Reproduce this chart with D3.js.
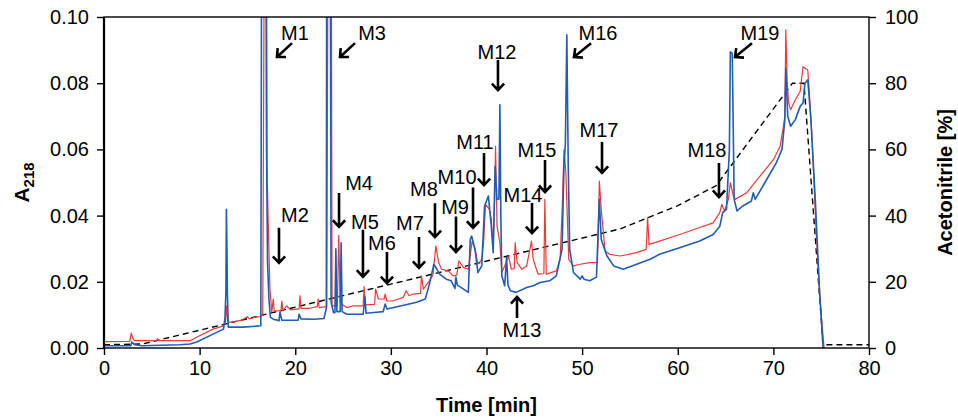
<!DOCTYPE html>
<html>
<head>
<meta charset="utf-8">
<script src="https://cdn.jsdelivr.net/npm/d3@7"></script>
<style>
  body { margin: 0; background: #fff; }
  text { font-family: "Liberation Sans", Arial, Helvetica, sans-serif; }
</style>
</head>
<body>
<div id="chart"></div>
<script>
// time [min] / A218 pairs
const redTrace = [
  [0, 0.0019], [2.7, 0.0020], [2.85, 0.0045], [3.0, 0.0030], [3.2, 0.0022], [5.5, 0.0022], [5.6, 0.0028], [5.7, 0.0022],
  [9.0, 0.0022], [10.0, 0.0037], [11.4, 0.0057], [12.5, 0.0067], [12.7, 0.0075], [12.8, 0.0127], [12.95, 0.0078],
  [13.5, 0.0078], [14.5, 0.0085], [15.0, 0.0095], [15.2, 0.0088], [15.8, 0.0093], [16.3, 0.0095], [16.6, 0.010],
  [16.8, 0.15], [17.0, 0.15], [17.05, 0.054], [17.2, 0.035], [17.35, 0.0178], [17.55, 0.011], [17.7, 0.0148],
  [17.8, 0.0112], [18.5, 0.0112], [18.6, 0.0142], [18.7, 0.0112], [19.1, 0.0127], [19.5, 0.0115], [20.4, 0.0118],
  [20.5, 0.0158], [20.6, 0.012], [21.5, 0.012], [22.3, 0.0125], [22.4, 0.0148], [22.5, 0.0122], [23.3, 0.0125],
  [23.45, 0.15], [23.75, 0.15], [23.85, 0.0127], [24.4, 0.0127], [24.55, 0.034], [24.7, 0.0135], [25.4, 0.0122],
  [26.0, 0.0127], [27.1, 0.0127], [27.2, 0.0186], [27.3, 0.013], [28.3, 0.0132], [28.4, 0.0178], [28.7, 0.0148],
  [29.3, 0.0148], [29.4, 0.0163], [29.6, 0.0142], [30.2, 0.0142], [31.3, 0.0153], [31.6, 0.0173], [31.9, 0.0158],
  [32.3, 0.0163], [33.1, 0.0165], [33.2, 0.0218], [33.4, 0.0178], [33.9, 0.0198], [34.4, 0.022], [34.7, 0.0308],
  [35.0, 0.0258], [35.3, 0.0238], [36.0, 0.0233], [36.5, 0.0218], [36.9, 0.022], [37.1, 0.0263], [37.6, 0.0243],
  [38.1, 0.0238], [38.3, 0.028], [38.5, 0.0323], [38.8, 0.030], [39.1, 0.0253], [39.5, 0.0268], [39.7, 0.032],
  [39.9, 0.0434], [40.3, 0.0419], [40.5, 0.0389], [40.7, 0.0298], [40.85, 0.045], [40.95, 0.0609], [41.1, 0.0368],
  [41.4, 0.0318], [41.6, 0.0228], [41.9, 0.0248], [42.3, 0.0278], [42.6, 0.0238], [42.9, 0.024], [43.0, 0.0318],
  [43.2, 0.0258], [43.7, 0.0238], [44.2, 0.0248], [44.7, 0.0323], [44.9, 0.0266], [45.4, 0.0223], [46.0, 0.0225],
  [46.1, 0.0449], [46.25, 0.0223], [47.3, 0.0233], [47.7, 0.0268], [47.95, 0.045], [48.1, 0.0599], [48.3, 0.053],
  [48.6, 0.0268], [49.1, 0.0248], [49.8, 0.0253], [50.8, 0.0258], [51.6, 0.0258], [51.8, 0.0504], [52.0, 0.0419],
  [52.4, 0.0293], [52.9, 0.0283], [54.0, 0.0278], [55.7, 0.0288], [56.7, 0.0298], [56.85, 0.0394], [57.0, 0.0313],
  [58.1, 0.0323], [60.2, 0.0343], [62.3, 0.0364], [63.7, 0.0378], [64.4, 0.0409], [64.6, 0.0434], [64.9, 0.0414],
  [65.3, 0.0449], [65.5, 0.050], [65.8, 0.046], [66.0, 0.0449], [67.2, 0.0469], [68.6, 0.0519], [70.0, 0.0569],
  [70.7, 0.0609], [71.0, 0.066], [71.2, 0.07], [71.3, 0.0961], [71.45, 0.08], [71.6, 0.074], [71.8, 0.072],
  [72.3, 0.075], [72.8, 0.0775], [73.1, 0.085], [73.6, 0.084], [74.0, 0.066], [74.5, 0.0338], [74.9, 0.0138], [75.3, 0]
];

const blueTrace = [
  [0, 0.0007], [2.8, 0.0007], [2.9, 0.0018], [3.2, 0.0010], [4.0, 0.0007], [7.9, 0.0010], [9.0, 0.0012], [9.7, 0.0018],
  [11.4, 0.0042], [12.5, 0.0057], [12.65, 0.009], [12.75, 0.017], [12.8, 0.0419], [12.85, 0.032], [12.9, 0.017],
  [13.0, 0.0063], [14.5, 0.0063], [15.5, 0.0065], [16.4, 0.0067], [16.5, 0.15], [16.9, 0.15], [17.0, 0.06],
  [17.1, 0.026], [17.25, 0.0148], [17.4, 0.0093], [17.7, 0.0087], [18.0, 0.0085], [18.3, 0.0082], [18.4, 0.0108],
  [18.6, 0.0084], [20.3, 0.0084], [20.4, 0.0102], [20.6, 0.0088], [22.0, 0.0087], [23.0, 0.0089], [23.25, 0.012],
  [23.3, 0.15], [23.65, 0.15], [23.75, 0.0138], [24.0, 0.0107], [24.15, 0.0107], [24.25, 0.030], [24.35, 0.011],
  [24.7, 0.011], [24.8, 0.0318], [24.9, 0.011], [25.4, 0.0102], [27.1, 0.0102], [27.3, 0.0154], [27.4, 0.0105],
  [28.5, 0.0108], [29.2, 0.011], [29.4, 0.0133], [29.6, 0.0118], [31.0, 0.0127], [32.7, 0.0138], [33.6, 0.0148],
  [34.0, 0.019], [34.5, 0.0253], [35.1, 0.0223], [35.8, 0.0208], [36.3, 0.0203], [36.7, 0.018], [36.8, 0.0214],
  [36.95, 0.019], [37.6, 0.0178], [38.1, 0.0168], [38.3, 0.0328], [38.45, 0.0338], [38.8, 0.0298], [39.1, 0.0228],
  [39.5, 0.0248], [39.8, 0.0429], [40.2, 0.0459], [40.5, 0.0368], [40.7, 0.0288], [40.9, 0.0549], [41.1, 0.0449],
  [41.3, 0.045], [41.4, 0.0735], [41.5, 0.04], [41.6, 0.0218], [41.9, 0.0188], [42.1, 0.0273], [42.25, 0.019],
  [42.5, 0.0173], [43.1, 0.0168], [44.2, 0.0183], [44.9, 0.0188], [45.6, 0.0198], [46.6, 0.0203], [47.3, 0.0218],
  [47.9, 0.0298], [48.1, 0.0549], [48.25, 0.062], [48.4, 0.0946], [48.55, 0.055], [48.7, 0.0298], [49.1, 0.0228],
  [49.8, 0.0208], [50.0, 0.0218], [50.2, 0.0208], [50.8, 0.0203], [51.5, 0.0214], [51.8, 0.0449], [52.0, 0.0328],
  [52.6, 0.0278], [53.3, 0.0248], [54.3, 0.0238], [55.7, 0.0253], [57.1, 0.0268], [58.1, 0.0283], [60.2, 0.0303],
  [62.3, 0.0323], [63.7, 0.0343], [64.4, 0.0368], [64.7, 0.0409], [65.1, 0.0419], [65.4, 0.06], [65.5, 0.0895],
  [65.7, 0.089], [65.9, 0.0449], [66.2, 0.0414], [66.8, 0.0429], [67.7, 0.0444], [67.9, 0.0469], [68.1, 0.0449],
  [69.3, 0.0509], [70.3, 0.0559], [70.9, 0.06], [71.2, 0.069], [71.3, 0.0845], [71.5, 0.07], [71.8, 0.067],
  [72.3, 0.069], [72.8, 0.073], [73.1, 0.074], [73.3, 0.080], [73.6, 0.081], [73.9, 0.07], [74.4, 0.0439],
  [74.8, 0.0188], [75.2, 0]
];

// acetonitrile gradient, time [min] / %
const gradient = [[0, 1], [4, 1.2], [54, 36], [60, 43], [64, 49], [72, 80], [73.2, 80], [75.2, 1], [80, 1]];

const xTicks = [0, 10, 20, 30, 40, 50, 60, 70, 80];
const aTicks = [0, 0.02, 0.04, 0.06, 0.08, 0.10];
const pctTicks = [0, 20, 40, 60, 80, 100];

// peak labels: name, label (t, A), arrow from (t, A) to (t, A)
const peakLabels = [
  ["M1", 19.97, 0.0952, 19.66, 0.0921, 18.09, 0.0879],
  ["M2", 19.97, 0.0402, 18.3, 0.0363, 18.3, 0.0257],
  ["M3", 28.03, 0.0952, 26.25, 0.0921, 24.68, 0.0879],
  ["M4", 26.67, 0.0498, 24.58, 0.0468, 24.58, 0.0366],
  ["M5", 27.29, 0.0381, 27.08, 0.0357, 27.08, 0.0215],
  ["M6", 29.07, 0.0317, 29.59, 0.0290, 29.59, 0.0196],
  ["M7", 32.0, 0.0378, 32.94, 0.0335, 32.94, 0.0242],
  ["M8", 33.46, 0.0480, 34.61, 0.0437, 34.61, 0.0335],
  ["M9", 36.71, 0.0426, 36.81, 0.0397, 36.81, 0.0290],
  ["M10", 36.92, 0.0517, 38.59, 0.0485, 38.59, 0.0363],
  ["M11", 38.8, 0.0622, 39.74, 0.0589, 39.74, 0.0492],
  ["M12", 41.1, 0.0894, 41.2, 0.0870, 41.2, 0.0779],
  ["M13", 43.71, 0.0054, 43.19, 0.0091, 43.19, 0.0154],
  ["M14", 43.82, 0.0462, 44.76, 0.0438, 44.76, 0.0347],
  ["M15", 45.28, 0.0598, 46.12, 0.0568, 46.12, 0.0471],
  ["M16", 51.66, 0.0952, 50.93, 0.0921, 49.15, 0.0879],
  ["M17", 51.76, 0.0659, 52.08, 0.0622, 52.08, 0.0529],
  ["M18", 63.06, 0.0598, 64.31, 0.0559, 64.31, 0.0456],
  ["M19", 68.6, 0.0952, 67.76, 0.0921, 65.99, 0.0879]
];

const width = 958, height = 419;
const margin = { top: 17, right: 89, bottom: 71, left: 104 };

const redStroke = "#ef3838";
const blueStroke = "#1f5db6";

const svg = d3.select("#chart").append("svg")
  .attr("width", width)
  .attr("height", height);

const x = d3.scaleLinear().domain([0, 80]).range([margin.left, width - margin.right]);
const yA = d3.scaleLinear().domain([0, 0.1]).range([height - margin.bottom, margin.top]);
const yP = d3.scaleLinear().domain([0, 100]).range([height - margin.bottom, margin.top]);

svg.append("clipPath").attr("id", "plot-clip")
  .append("rect")
  .attr("x", margin.left)
  .attr("y", margin.top)
  .attr("width", width - margin.left - margin.right)
  .attr("height", height - margin.top - margin.bottom);

const plot = svg.append("g").attr("clip-path", "url(#plot-clip)");

const traceLine = d3.line().x(d => x(d[0])).y(d => yA(d[1]));
const gradLine = d3.line().x(d => x(d[0])).y(d => yP(d[1]));

plot.append("path")
  .datum(gradient)
  .attr("d", gradLine)
  .attr("fill", "none")
  .attr("stroke", "black")
  .attr("stroke-width", 1.4)
  .attr("stroke-dasharray", "6,4");

plot.append("path")
  .datum(redTrace)
  .attr("d", traceLine)
  .attr("fill", "none")
  .attr("stroke", redStroke)
  .attr("stroke-width", 1.2)
  .attr("stroke-linejoin", "round");

plot.append("path")
  .datum(blueTrace)
  .attr("d", traceLine)
  .attr("fill", "none")
  .attr("stroke", blueStroke)
  .attr("stroke-width", 1.6)
  .attr("stroke-linejoin", "round");

function styleAxis(g) {
  g.selectAll("text")
    .attr("font-size", "20px")
    .attr("fill", "black")
    .style("font-family", "'Liberation Sans', Arial, sans-serif");
  g.selectAll("line").attr("stroke-width", 1.4);
  g.select(".domain").remove();
}

svg.append("g")
  .attr("transform", `translate(0,${height - margin.bottom})`)
  .call(d3.axisBottom(x).tickValues(xTicks).tickSize(7).tickPadding(6).tickSizeOuter(0))
  .call(styleAxis);

svg.append("g")
  .attr("transform", `translate(${margin.left},0)`)
  .call(d3.axisLeft(yA).tickValues(aTicks).tickFormat(d3.format(".2f")).tickSize(7).tickPadding(8))
  .call(styleAxis);

svg.append("g")
  .attr("transform", `translate(${width - margin.right},0)`)
  .call(d3.axisRight(yP).tickValues(pctTicks).tickSize(7).tickPadding(9))
  .call(styleAxis);

// frame
svg.append("rect")
  .attr("x", margin.left)
  .attr("y", margin.top)
  .attr("width", width - margin.left - margin.right)
  .attr("height", height - margin.top - margin.bottom)
  .attr("fill", "none")
  .attr("stroke", "black")
  .attr("stroke-width", 1.4);
svg.append("line")
  .attr("x1", margin.left).attr("x2", margin.left)
  .attr("y1", margin.top).attr("y2", height - margin.bottom)
  .attr("stroke", "black").attr("stroke-width", 2.2);

// axis titles
svg.append("text")
  .attr("x", x(40))
  .attr("y", 412)
  .attr("text-anchor", "middle")
  .attr("font-size", "20px")
  .attr("font-weight", "bold")
  .text("Time [min]");

const aTitle = svg.append("text")
  .attr("transform", `translate(29,${(margin.top + height - margin.bottom) / 2}) rotate(-90)`)
  .attr("text-anchor", "middle")
  .attr("font-size", "21px")
  .attr("font-weight", "bold");
aTitle.append("tspan").text("A");
aTitle.append("tspan").attr("font-size", "15px").attr("dy", "0.3em").text("218");

svg.append("text")
  .attr("transform", `translate(952,${(margin.top + height - margin.bottom) / 2}) rotate(-90)`)
  .attr("text-anchor", "middle")
  .attr("font-size", "20px")
  .attr("font-weight", "bold")
  .text("Acetonitrile [%]");

// peak annotations
const notes = svg.append("g");

notes.selectAll("text")
  .data(peakLabels)
  .enter()
  .append("text")
  .attr("x", d => x(d[1]))
  .attr("y", d => yA(d[2]))
  .attr("dy", "0.36em")
  .attr("text-anchor", "middle")
  .attr("font-size", "20px")
  .text(d => d[0]);

function arrowPath(d) {
  let x1 = x(d[3]), y1 = yA(d[4]), x2 = x(d[5]), y2 = yA(d[6]);
  let ang = Math.atan2(y2 - y1, x2 - x1);
  let len = 9, spread = Math.PI / 4.2;
  let ax = x2 - len * Math.cos(ang - spread), ay = y2 - len * Math.sin(ang - spread);
  let bx = x2 - len * Math.cos(ang + spread), by = y2 - len * Math.sin(ang + spread);
  return `M${x1},${y1}L${x2},${y2}M${ax},${ay}L${x2},${y2}L${bx},${by}`;
}

notes.selectAll("path")
  .data(peakLabels)
  .enter()
  .append("path")
  .attr("d", arrowPath)
  .attr("fill", "none")
  .attr("stroke", "black")
  .attr("stroke-width", 2.6);
</script>
</body>
</html>
